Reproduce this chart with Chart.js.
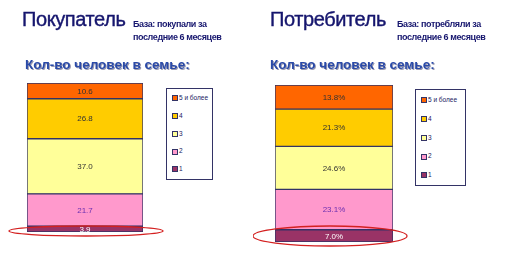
<!DOCTYPE html>
<html><head><meta charset="utf-8">
<script src="https://cdn.jsdelivr.net/npm/chart.js@4"></script>
<style>
html,body{margin:0;padding:0;background:#fff;width:506px;height:273px;overflow:hidden;font-family:"Liberation Sans",Arial,sans-serif;}
.abs{position:absolute;}
.title{font-size:20px;color:#16166e;letter-spacing:-0.4px;white-space:nowrap;-webkit-text-stroke:0.4px #16166e;}
.base{font-size:9px;font-weight:bold;color:#16166e;line-height:13px;letter-spacing:-0.4px;white-space:nowrap;}
.sub{font-size:13.5px;font-weight:bold;color:#2a4aa8;text-shadow:1px 1px 0 #9a9ab0;white-space:nowrap;letter-spacing:0px;}
.legend{border:1px solid #333366;background:#fff;box-sizing:border-box;}
.li{position:absolute;font-size:6.5px;color:#202060;white-space:nowrap;line-height:7px;}
.li i{display:inline-block;width:4px;height:4px;border:1px solid #333366;margin-right:1px;vertical-align:middle;}
canvas{position:absolute;top:0;}
</style></head><body>
<canvas id="c1" width="253" height="273" style="left:0"></canvas>
<canvas id="c2" width="253" height="273" style="left:253px"></canvas>
<div class="abs title" style="left:22px;top:8px">Покупатель</div>
<div class="abs base" style="left:133px;top:18px">База: покупали за<br>последние 6 месяцев</div>
<div class="abs sub" style="left:25px;top:57px">Кол-во человек в семье:</div>
<div class="abs title" style="left:270px;top:8px">Потребитель</div>
<div class="abs base" style="left:397px;top:18px">База: потребляли за<br>последние 6 месяцев</div>
<div class="abs sub" style="left:270px;top:57px">Кол-во человек в семье:</div>
<div id="lg1" class="abs legend" style="left:166px;top:88px;width:47px;height:92px"></div>
<div id="lg2" class="abs legend" style="left:415px;top:89px;width:51px;height:97px"></div>
<script>
// Data (stack order bottom -> top)
const seriesNames = ["1", "2", "3", "4", "5 и более"];
const buyerValues = [3.9, 21.7, 37.0, 26.8, 10.6];
const consumerValues = [7.0, 23.1, 24.6, 21.3, 13.8];
const buyerLabels = ["3.9", "21.7", "37.0", "26.8", "10.6"];
const consumerLabels = ["7.0%", "23.1%", "24.6%", "21.3%", "13.8%"];
const categories = ["Кол-во человек в семье"];

const fills = ["#993366", "#FF99CC", "#FFFF99", "#FFCC00", "#FF6600"];
const labelColors = ["#ffffff", "#6a2fb0", "#333333", "#333333", "#333333"];

const segLabels = {
  id: 'segLabels',
  afterDatasetsDraw(chart, args, opts) {
    const ctx = chart.ctx;
    ctx.save();
    ctx.font = '8px "Liberation Sans", Arial, sans-serif';
    ctx.textAlign = 'center';
    ctx.textBaseline = 'middle';
    chart.data.datasets.forEach((ds, i) => {
      const el = chart.getDatasetMeta(i).data[0];
      const y = (el.y + el.base) / 2;
      ctx.fillStyle = labelColors[i];
      ctx.fillText(opts.labels[i], el.x, y + 0.5);
    });
    const ell = opts.ellipse;
    ctx.strokeStyle = '#d42020';
    ctx.lineWidth = 1.3;
    ctx.beginPath();
    ctx.ellipse(ell[0], ell[1], ell[2], ell[3], 0, 0, Math.PI * 2);
    ctx.stroke();
    ctx.restore();
  }
};

function makeChart(id, values, labels, pad, ellipse) {
  const total = values.reduce((a, b) => a + b, 0);
  return new Chart(document.getElementById(id), {
    type: 'bar',
    data: {
      labels: categories,
      datasets: seriesNames.map((n, i) => ({
        label: n,
        data: [values[i]],
        backgroundColor: fills[i],
        borderColor: '#333366',
        borderWidth: 1,
        borderSkipped: false,
        barPercentage: 1,
        categoryPercentage: 1
      }))
    },
    options: {
      responsive: false,
      animation: false,
      layout: { padding: pad },
      scales: {
        x: { stacked: true, display: false },
        y: { stacked: true, display: false, min: 0, max: total }
      },
      plugins: {
        legend: { display: false },
        tooltip: { enabled: false },
        segLabels: { labels: labels, ellipse: ellipse }
      }
    },
    plugins: [segLabels]
  });
}

makeChart('c1', buyerValues, buyerLabels, { left: 27, right: 110, top: 83, bottom: 41 }, [86, 231, 77, 5]);
makeChart('c2', consumerValues, consumerLabels, { left: 22, right: 113, top: 85, bottom: 31 }, [77, 236, 77, 10]);

function buildLegend(id, top0, step) {
  const el = document.getElementById(id);
  for (let k = seriesNames.length - 1, r = 0; k >= 0; k--, r++) {
    const d = document.createElement('div');
    d.className = 'li';
    d.style.left = '5px';
    d.style.top = (top0 + r * step) + 'px';
    d.innerHTML = '<i style="background:' + fills[k] + '"></i>' + seriesNames[k];
    el.appendChild(d);
  }
}
buildLegend('lg1', 5, 17.8);
buildLegend('lg2', 6, 18.8);
</script>
</body></html>
